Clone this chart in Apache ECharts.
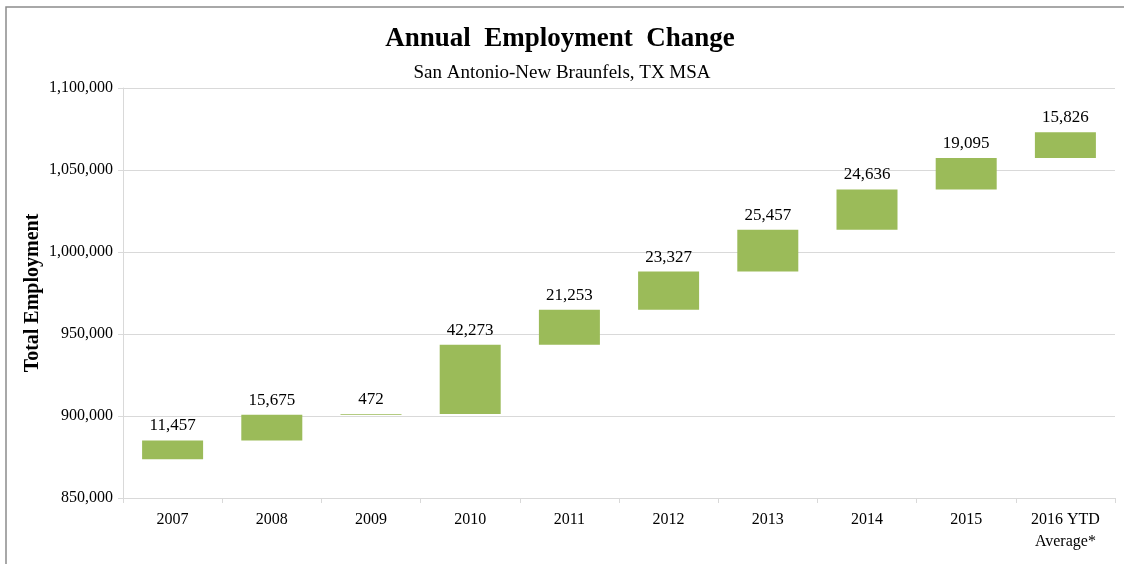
<!DOCTYPE html>
<html>
<head>
<meta charset="utf-8">
<script src="https://cdn.jsdelivr.net/npm/echarts@6/dist/echarts.min.js"></script>
<style>
html,body{margin:0;padding:0;background:#fff;}
#chart{width:1124px;height:564px;}
</style>
</head>
<body>
<div id="chart"></div>
<script>
const categories = ['2007','2008','2009','2010','2011','2012','2013','2014','2015','2016 YTD\nAverage*'];
const changes = [11457, 15675, 472, 42273, 21253, 23327, 25457, 24636, 19095, 15826];
const startLevel = 873600;
const yTicks = [850000, 900000, 950000, 1000000, 1050000, 1100000];

const bases = [];
let acc = startLevel;
for (const c of changes) { bases.push(acc); acc += c; }

const font = '"Liberation Serif", "Times New Roman", serif';
const chart = echarts.init(document.getElementById('chart'));
chart.setOption({
  animation: false,
  backgroundColor: '#fff',
  graphic: [{
    type: 'rect', shape: {x: 6, y: 7, width: 1130, height: 570},
    style: {fill: 'none', stroke: '#8c8c8c', lineWidth: 1.5}
  }],
  title: [{
    text: 'Annual  Employment  Change',
    left: 555, top: 21, textAlign: 'center',
    textStyle: {fontFamily: font, fontSize: 27, fontWeight: 'bold', color: '#000'}
  }, {
    text: 'San Antonio-New Braunfels, TX MSA',
    left: 557, top: 59, textAlign: 'center',
    textStyle: {fontFamily: font, fontSize: 19, fontWeight: 'normal', color: '#000'}
  }],
  grid: {left: 123, right: 9, top: 88, bottom: 66},
  xAxis: {
    type: 'category', data: categories,
    axisLine: {lineStyle: {color: '#d9d9d9'}},
    axisTick: {show: true, length: 5, lineStyle: {color: '#d9d9d9'}},
    axisLabel: {fontFamily: font, fontSize: 16, color: '#000', margin: 11, lineHeight: 22}
  },
  yAxis: {
    type: 'value', min: yTicks[0], max: yTicks[yTicks.length-1], interval: 50000,
    name: 'Total Employment', nameLocation: 'middle', nameGap: 80, nameRotate: 90,
    nameMoveOverlap: false,
    nameTextStyle: {fontFamily: font, fontSize: 20, fontWeight: 'bold', color: '#000'},
    axisLine: {show: true, lineStyle: {color: '#d9d9d9'}},
    axisTick: {show: true, length: 5, lineStyle: {color: '#d9d9d9'}},
    splitLine: {lineStyle: {color: '#d9d9d9'}},
    axisLabel: {fontFamily: font, fontSize: 16, color: '#000', margin: 10,
      formatter: v => v.toLocaleString('en-US')}
  },
  series: [{
    type: 'bar', stack: 'w', data: bases, barWidth: 61,
    itemStyle: {color: 'transparent'}, silent: true
  }, {
    type: 'bar', stack: 'w', data: changes, barWidth: 61,
    itemStyle: {color: '#9bbb59'},
    label: {show: true, position: 'top', distance: 6, fontFamily: font, fontSize: 17, color: '#000',
      formatter: p => p.value.toLocaleString('en-US')}
  }]
});
</script>
</body>
</html>
